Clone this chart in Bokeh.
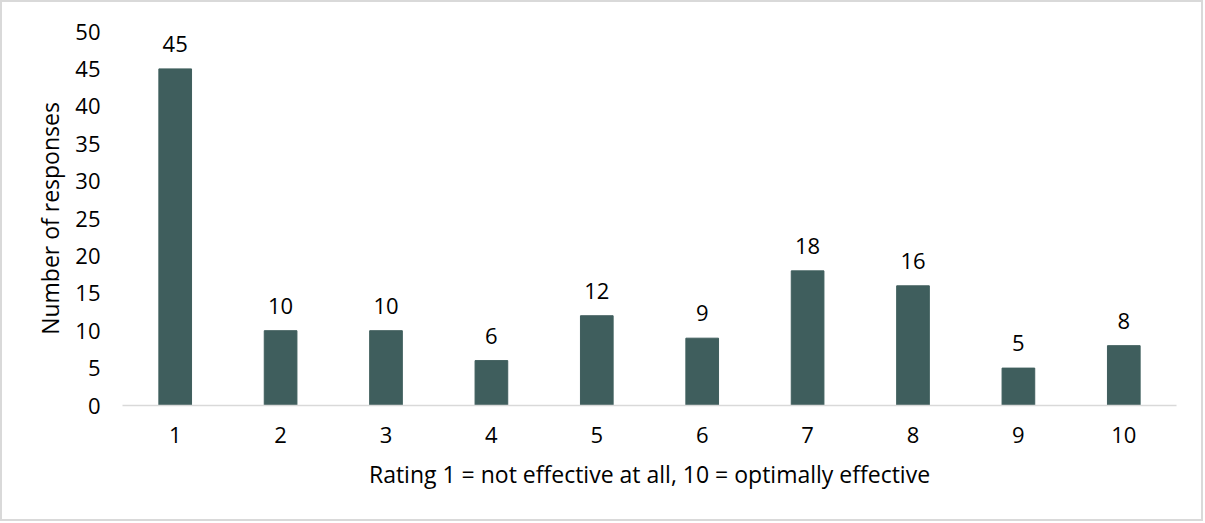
from bokeh.plotting import figure
from bokeh.models import ColumnDataSource, LabelSet
from bokeh.core.properties import value
from bokeh.embed import file_html
from bokeh.resources import INLINE

ratings = ["1", "2", "3", "4", "5", "6", "7", "8", "9", "10"]
responses = [45, 10, 10, 6, 12, 9, 18, 16, 5, 8]
y_ticks = [0, 5, 10, 15, 20, 25, 30, 35, 40, 45, 50]

FONT = "Open Sans"
FS = "22px"
FS_TITLE = "23px"
BAR = "#3F5E5D"

src = ColumnDataSource(dict(x=ratings, top=responses, lab=[str(v) for v in responses]))

p = figure(x_range=ratings, y_range=(0, 50), width=1203, height=521,
           output_backend="svg", toolbar_location=None,
           min_border_left=120, min_border_right=29, min_border_top=29, min_border_bottom=118,
           styles={"border": "2px solid #d9d9d9", "box-sizing": "border-box"})
p.outline_line_color = None
p.xgrid.grid_line_color = None
p.ygrid.grid_line_color = None

p.vbar(x="x", top="top", width=0.31, source=src, fill_color=BAR, line_color=BAR)

labels = LabelSet(x="x", y="top", text="lab", source=src, text_align="center",
                  text_baseline="bottom", y_offset=17, text_font=value(FONT),
                  text_font_size=value(FS), text_color="#000000")
p.add_layout(labels)

p.yaxis.ticker = y_ticks
p.yaxis.axis_line_color = None
p.yaxis.major_tick_line_color = None
p.yaxis.minor_tick_line_color = None
p.yaxis.major_label_standoff = 16
p.yaxis.axis_label = "Number of responses"
p.yaxis.axis_label_standoff = 6

p.xaxis.axis_line_color = "#d9d9d9"
p.xaxis.axis_line_width = 1.5
p.xaxis.major_tick_line_color = None
p.xaxis.minor_tick_line_color = None
p.xaxis.major_label_standoff = 15
p.xaxis.axis_label = "Rating 1 = not effective at all, 10 = optimally effective"
p.xaxis.axis_label_standoff = 12

for ax in (p.xaxis[0], p.yaxis[0]):
    ax.major_label_text_font = FONT
    ax.major_label_text_font_size = FS
    ax.major_label_text_color = "#000000"
    ax.axis_label_text_font = FONT
    ax.axis_label_text_font_size = FS_TITLE
    ax.axis_label_text_font_style = "normal"
    ax.axis_label_text_color = "#000000"

open("out.html", "w").write(file_html(p, INLINE))
